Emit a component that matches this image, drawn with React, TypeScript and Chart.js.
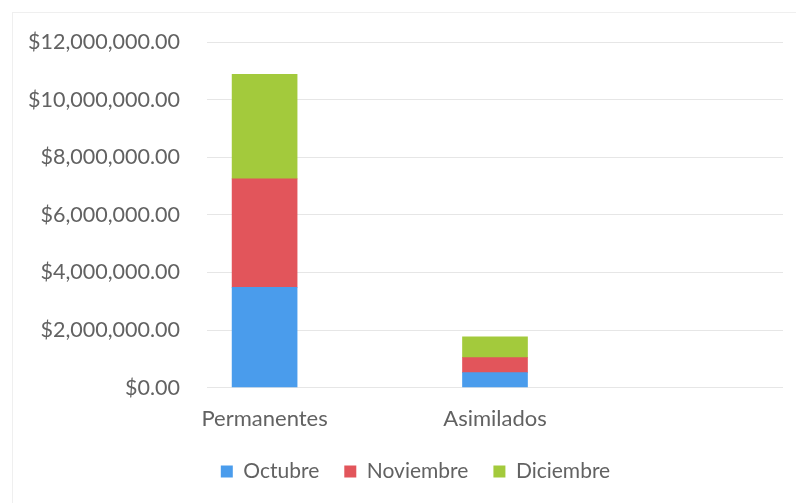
import React, { useEffect, useRef } from "react";
import { Chart, registerables } from "chart.js";

Chart.register(...registerables);

const categories = ["Permanentes", "Asimilados"];
const seriesNames = ["Octubre", "Noviembre", "Diciembre"];
const octubre = [3480000, 520000];
const noviembre = [3770000, 520000];
const diciembre = [3630000, 720000];
const yTicks = [0, 2000000, 4000000, 6000000, 8000000, 10000000, 12000000];

const colors = ["#4a9cec", "#e2555b", "#a3ca3c"];
// category slot for each real category (5 slots across the plot)
const slotOf = [0, 2];
const slotCount = 5;

const fmt = (v: number) =>
  "$" + v.toLocaleString("en-US", { minimumFractionDigits: 2, maximumFractionDigits: 2 });

const legendShift = {
  id: "legendShift",
  afterLayout(chart: any) {
    const l = chart.legend;
    if (!l) return;
    l.left += 48;
    l.top -= 6;
    l.bottom -= 6;
  },
};

export default function App() {
  const ref = useRef<HTMLCanvasElement>(null);
  useEffect(() => {
    if (!ref.current) return;
    const labels: string[] = Array(slotCount).fill("");
    categories.forEach((c, i) => (labels[slotOf[i]] = c));
    const toSlots = (arr: number[]) => {
      const out: (number | null)[] = Array(slotCount).fill(null);
      arr.forEach((v, i) => (out[slotOf[i]] = v));
      return out;
    };
    const all = [octubre, noviembre, diciembre];
    const family = "Lato, 'Open Sans', sans-serif";
    const textColor = "#626262";
    const chart = new Chart(ref.current, {
      type: "bar",
      data: {
        labels,
        datasets: all.map((d, i) => ({
          label: seriesNames[i],
          data: toSlots(d),
          backgroundColor: colors[i],
          borderWidth: 0,
          barThickness: 65,
        })),
      },
      plugins: [legendShift],
      options: {
        animation: false,
        responsive: false,
        maintainAspectRatio: false,
        layout: { padding: { top: 42, right: 13, bottom: 5, left: 0 } },
        plugins: {
          tooltip: { enabled: false },
          legend: {
            position: "bottom",
            labels: {
              font: { family, size: 21 },
              color: textColor,
              boxWidth: 12,
              boxHeight: 12,
              padding: 25,
            },
          },
        },
        scales: {
          x: {
            stacked: true,
            grid: { display: false },
            border: { display: false },
            ticks: { font: { family, size: 22 }, color: textColor, padding: 10, autoSkip: false, maxRotation: 0 },
          },
          y: {
            stacked: true,
            min: 0,
            max: 12000000,
            afterFit: (s: any) => {
              s.width = 207;
            },
            afterBuildTicks: (s: any) => {
              s.ticks = yTicks.map((v) => ({ value: v }));
            },
            grid: { color: "#e6e6e6", drawTicks: false },
            border: { display: false },
            ticks: {
              font: { family, size: 21.5 },
              color: textColor,
              padding: 27,
              callback: (v: any) => fmt(Number(v)),
            },
          },
        },
      },
    });
    return () => chart.destroy();
  }, []);
  return (
    <div style={{ position: "absolute", left: 0, top: 0, width: 796, height: 503, background: "#fff" }}>
      <div
        style={{
          position: "absolute",
          left: 12,
          top: 12,
          right: 0,
          bottom: 0,
          borderLeft: "1px solid #efefef",
          borderTop: "1px solid #efefef",
        }}
      />
      <canvas ref={ref} width={796} height={503} style={{ position: "absolute", left: 0, top: 0 }} />
    </div>
  );
}
